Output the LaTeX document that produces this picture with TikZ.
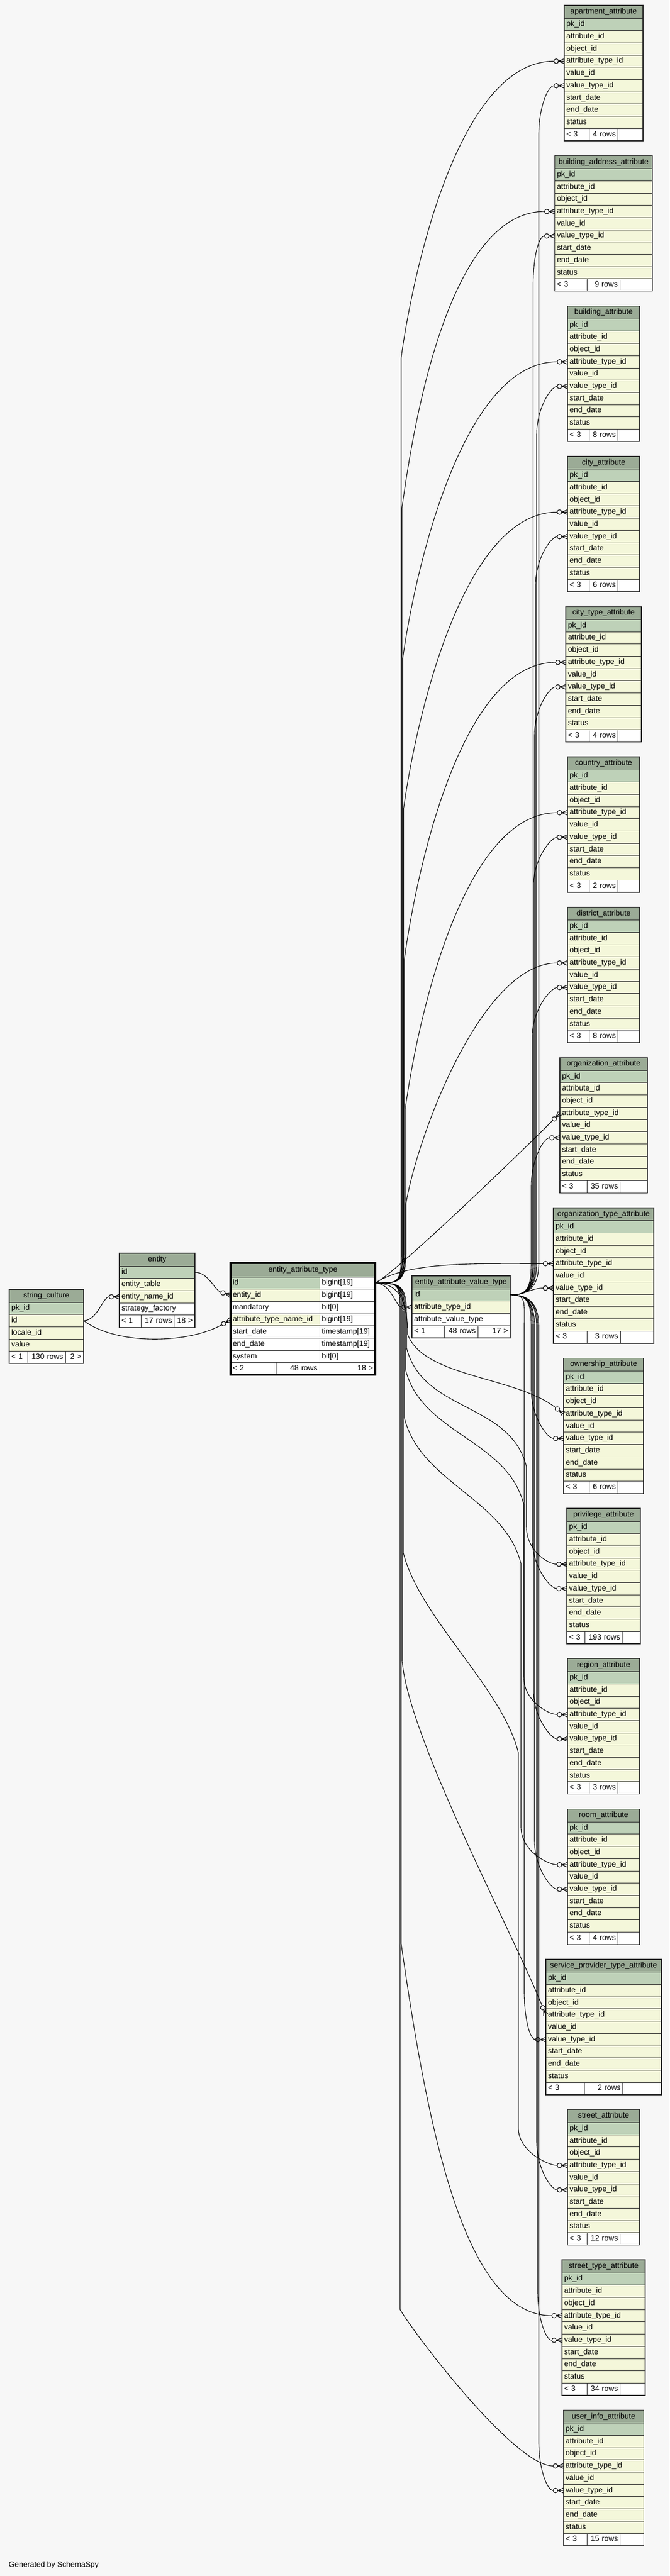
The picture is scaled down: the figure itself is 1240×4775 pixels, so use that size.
\documentclass[tikz,border=0pt]{standalone}
\usepackage{fontspec}
\setmainfont{Liberation Sans}
\usetikzlibrary{calc,arrows.meta}

\definecolor{hdrfill}{HTML}{9BAB96}
\definecolor{pkfill}{HTML}{BED1B8}
\definecolor{fkfill}{HTML}{F4F7DA}
\definecolor{canvas}{HTML}{F7F7F7}

\newcommand\tabfont{\fontsize{14.2}{16}\selectfont}

\pgfdeclarearrow{
  name = crowodot,
  setup code = {
    \pgfarrowssettipend{0pt}
    \pgfarrowssetlineend{-19pt}
    \pgfarrowssetbackend{-19pt}
    \pgfarrowsupperhullpoint{0pt}{5pt}
    \pgfarrowsupperhullpoint{-19pt}{5pt}
  },
  drawing code = {
    \pgfpathmoveto{\pgfqpoint{0pt}{4.5pt}}
    \pgfpathlineto{\pgfqpoint{-10.5pt}{0pt}}
    \pgfpathlineto{\pgfqpoint{0pt}{-4.5pt}}
    \pgfpathmoveto{\pgfqpoint{-10.5pt}{0pt}}
    \pgfpathlineto{\pgfqpoint{0pt}{0pt}}
    \pgfusepathqstroke
    \pgfpathcircle{\pgfqpoint{-14.75pt}{0pt}}{4.25pt}
    \pgfusepathqstroke
  }
}

\tikzset{
  cellrow/.style={draw=black!85, line width=0.9pt, anchor=north west, outer sep=0pt,
    minimum height=22.7pt, inner xsep=4pt, inner ysep=0pt, text height=10pt,
    text depth=3pt, align=left, font=\tabfont},
  hdr/.style={cellrow, fill=hdrfill, align=center, minimum height=24pt},
  pkrow/.style={cellrow, fill=pkfill},
  fkrow/.style={cellrow, fill=fkfill},
  plainrow/.style={cellrow, fill=white},
  footl/.style={cellrow, fill=white, align=left},
  footr/.style={cellrow, fill=white, align=right},
  frame/.style={draw=black!85, line width=1.4pt},
  focusframe/.style={draw=black, line width=3.5pt},
  fk/.style={draw=black, line width=1.1pt, -crowodot},
}

\begin{document}
\begin{tikzpicture}[x=1pt, y=-1pt]
\fill[canvas] (0,0) rectangle (1240,4775);
\useasboundingbox (0,0) rectangle (1240,4775);

% string_culture
\node[hdr, text width=130pt] (sc-h) at (17,2390) {string\_culture};
\node[pkrow, text width=130pt] (sc-pk) at (sc-h.south west) {pk\_id};
\node[fkrow, text width=130pt] (sc-id) at (sc-pk.south west) {id};
\node[fkrow, text width=130pt] (sc-locale) at (sc-id.south west) {locale\_id};
\node[fkrow, text width=130pt] (sc-value) at (sc-locale.south west) {value};
\node[footl, text width=26.7pt] (sc-f1) at (sc-value.south west) {< 1};
\node[footr, text width=61.3pt] (sc-f2) at (sc-f1.north east) {130 rows};
\node[footr, text width=26pt] (sc-f3) at (sc-f2.north east) {2 >};
\draw[frame] (sc-h.north west) rectangle (sc-f3.south east);

% entity
\node[hdr, text width=132pt] (ent-h) at (221,2323) {entity};
\node[pkrow, text width=132pt] (ent-id) at (ent-h.south west) {id};
\node[fkrow, text width=132pt] (ent-table) at (ent-id.south west) {entity\_table};
\node[fkrow, text width=132pt] (ent-name) at (ent-table.south west) {entity\_name\_id};
\node[plainrow, text width=132pt] (ent-strategy) at (ent-name.south west) {strategy\_factory};
\node[footl, text width=32pt] (ent-f1) at (ent-strategy.south west) {< 1};
\node[footr, text width=53.7pt] (ent-f2) at (ent-f1.north east) {17 rows};
\node[footr, text width=30.3pt] (ent-f3) at (ent-f2.north east) {18 >};
\draw[frame] (ent-h.north west) rectangle (ent-f3.south east);

% entity_attribute_type
\node[hdr, text width=260pt, minimum height=26pt] (eat-h) at (427,2341) {entity\_attribute\_type};
\node[pkrow, text width=157pt] (eat-id) at (eat-h.south west) {id};
\node[plainrow, text width=95pt] (eat-idt) at (eat-id.north east) {bigint[19]};
\node[fkrow, text width=157pt] (eat-eid) at (eat-id.south west) {entity\_id};
\node[plainrow, text width=95pt] (eat-eidt) at (eat-eid.north east) {bigint[19]};
\node[plainrow, text width=157pt] (eat-mand) at (eat-eid.south west) {mandatory};
\node[plainrow, text width=95pt] (eat-mandt) at (eat-mand.north east) {bit[0]};
\node[fkrow, text width=157pt] (eat-atn) at (eat-mand.south west) {attribute\_type\_name\_id};
\node[plainrow, text width=95pt] (eat-atnt) at (eat-atn.north east) {bigint[19]};
\node[plainrow, text width=157pt] (eat-start) at (eat-atn.south west) {start\_date};
\node[plainrow, text width=95pt] (eat-startt) at (eat-start.north east) {timestamp[19]};
\node[plainrow, text width=157pt] (eat-end) at (eat-start.south west) {end\_date};
\node[plainrow, text width=95pt] (eat-endt) at (eat-end.north east) {timestamp[19]};
\node[plainrow, text width=157pt] (eat-sys) at (eat-end.south west) {system};
\node[plainrow, text width=95pt] (eat-syst) at (eat-sys.north east) {bit[0]};
\node[footl, text width=76.7pt] (eat-f1) at (eat-sys.south west) {< 2};
\node[footr, text width=72.3pt] (eat-f2) at (eat-f1.north east) {48 rows};
\node[footr, text width=95pt] (eat-f3) at (eat-f2.north east) {18 >};
\draw[focusframe] (eat-h.north west) rectangle (eat-f3.south east);

% entity_attribute_value_type
\node[hdr, text width=174pt] (eavt-h) at (763,2365) {entity\_attribute\_value\_type};
\node[pkrow, text width=174pt] (eavt-id) at (eavt-h.south west) {id};
\node[fkrow, text width=174pt] (eavt-atid) at (eavt-id.south west) {attribute\_type\_id};
\node[plainrow, text width=174pt] (eavt-avt) at (eavt-atid.south west) {attribute\_value\_type};
\node[footl, text width=52.7pt] (eavt-f1) at (eavt-avt.south west) {< 1};
\node[footr, text width=53.6pt] (eavt-f2) at (eavt-f1.north east) {48 rows};
\node[footr, text width=51.7pt] (eavt-f3) at (eavt-f2.north east) {17 >};
\draw[frame] (eavt-h.north west) rectangle (eavt-f3.south east);

% attribute tables
\foreach \tname/\tlabel/\nrows/\tw/\mw [count=\tk from 0] in {
    apt/apartment\_attribute/4/146/53.3,
    bldaddr/building\_address\_attribute/9/181/60.3,
    bld/building\_attribute/8/134/53.3,
    city/city\_attribute/6/134/53.3,
    citytype/city\_type\_attribute/4/140/53.3,
    country/country\_attribute/2/134/53.3,
    district/district\_attribute/8/134/53.3,
    org/organization\_attribute/35/162/61.3,
    orgtype/organization\_type\_attribute/3/186/62,
    own/ownership\_attribute/6/148/53.3,
    priv/privilege\_attribute/193/136/69.3,
    region/region\_attribute/3/134/53.3,
    room/room\_attribute/4/134/53.3,
    sptype/service\_provider\_type\_attribute/2/214/71.3,
    street/street\_attribute/12/134/61.3,
    streettype/street\_type\_attribute/34/154/61.3,
    userinfo/user\_info\_attribute/15/149/61.3}{
  \pgfmathsetmacro\tx{1118-\tw/2}
  \pgfmathsetmacro\ty{10+278.6*\tk}
  \pgfmathsetmacro\txtw{\tw-8}
  \pgfmathsetmacro\sidew{(\tw-\mw)/2-8}
  \pgfmathsetmacro\midw{\mw-8}
  \node[hdr, text width=\txtw pt] (\tname-0) at (\tx,\ty) {\tlabel};
  \foreach \col [count=\rj] in {pk\_id,attribute\_id,object\_id,attribute\_type\_id,
      value\_id,value\_type\_id,start\_date,end\_date,status}{
    \pgfmathtruncatemacro\rprev{\rj-1}
    \ifnum\rj=1 \def\rowfill{pkfill}\else\def\rowfill{fkfill}\fi
    \node[cellrow, fill=\rowfill, text width=\txtw pt] (\tname-\rj) at (\tname-\rprev.south west) {\col};
  }
  \node[footl, text width=\sidew pt] (\tname-f1) at (\tname-9.south west) {< 3};
  \node[footr, text width=\midw pt] (\tname-f2) at (\tname-f1.north east) {\nrows\ rows};
  \node[footr, text width=\sidew pt] (\tname-f3) at (\tname-f2.north east) {};
  \draw[frame] (\tname-0.north west) rectangle (\tname-f3.south east);
}

% links on the left
\draw[fk] (sc-id.east) .. controls +(25,0) and +(-30,0) .. (ent-name.west);
\draw[fk] (sc-id.east) .. controls +(60,45) and +(-80,45) .. (eat-atn.west);
\draw[fk] (ent-id.east) .. controls +(25,0) and +(-30,-10) .. (eat-eid.west);
\draw[fk] (eat-idt.east) .. controls +(30,0) and +(-30,0) .. (eavt-atid.west);

% attribute_type_id links, upwards
\foreach \tname/\tk in {apt/0,bldaddr/1,bld/2,city/3,citytype/4,country/5,district/6}{
  \pgfmathsetmacro\spanv{min(550,0.75*(2266-278.6*\tk))}
  \pgfmathsetmacro\dx{48+1.5*\tk}
  \draw[fk] (eat-idt.east) .. controls +(45,0) and +(0,60) .. ($(eat-idt.east)+(\dx,-60)$)
    -- ($(eat-idt.east |- \tname-4.west)+(\dx,\spanv)$)
    .. controls +(20,-0.27*\spanv) and +(-0.36*\spanv,0) .. (\tname-4.west);
}
\draw[fk] (eat-idt.east) .. controls +(40,-20) and +(-70,70) .. (org-4.west);
\draw[fk] (eat-idt.east) .. controls +(60,-40) and +(-150,0) .. (orgtype-4.west);

% attribute_type_id links, downwards
\draw[fk] (eat-idt.east) .. controls +(45,0) and +(0,-60) .. ($(eat-idt.east)+(60,95)$)
  .. controls +(30,80) and +(-90,-70) .. (own-4.west);
\foreach \tname/\dx/\ys/\xr/\yr in {priv/58/120/280/340,region/56/160/275/410,
    room/54/250/270/520,street/52/500/265/870}{
  \draw[fk] (eat-idt.east) .. controls +(45,0) and +(0,-60) .. ($(eat-idt.east)+(\dx,60)$)
    -- ($(eat-idt.east)+(\dx,\ys)$)
    .. controls +(30,120) and +(-30,-120) .. ($(eat-idt.east)+(\xr,\yr)$)
    -- ($(eat-idt.east |- \tname-4.west)+(\xr,-70)$)
    .. controls +(0,45) and +(-35,0) .. (\tname-4.west);
}
\draw[fk] (eat-idt.east) .. controls +(45,0) and +(0,-60) .. ($(eat-idt.east)+(50,60)$)
  -- ($(eat-idt.east)+(50,700)$)
  .. controls +(10,140) and +(-60,-150) .. (sptype-4.west);
\draw[fk] (eat-idt.east) .. controls +(45,0) and +(0,-60) .. ($(eat-idt.east)+(48,60)$)
  -- ($(eat-idt.east |- streettype-4.west)+(48,-690)$)
  .. controls +(50,350) and +(-180,0) .. (streettype-4.west);
\draw[fk] (eat-idt.east) .. controls +(45,0) and +(0,-60) .. ($(eat-idt.east)+(46,60)$)
  -- ($(eat-idt.east |- userinfo-4.west)+(46,-290)$)
  .. controls +(30,50) and +(-90,0) .. (userinfo-4.west);

% value_type_id links, upwards
\foreach \tname/\tk/\tw in {apt/0/146,bldaddr/1/181,bld/2/134,city/3/134,citytype/4/140,
    country/5/134,district/6/134,org/7/162}{
  \pgfmathsetmacro\vx{min(53-2*\tk,1118-\tw/2-985)}
  \draw[fk] (eavt-id.east) .. controls +(30,0) and +(0,50) .. ($(eavt-id.east)+(\vx,-60)$)
    -- ($(eavt-id.east |- \tname-6.west)+(\vx,90)$)
    .. controls +(0,-50) and +(-30,0) .. (\tname-6.west);
}
\draw[fk] (eavt-id.east) .. controls +(25,0) and +(-40,0) .. (orgtype-6.west);

% value_type_id links, downwards
\foreach \tname/\tk/\tw in {own/9/148,priv/10/136,region/11/134,room/12/134,sptype/13/214,
    street/14/134,streettype/15/154,userinfo/16/149}{
  \pgfmathsetmacro\vx{min(39+2*(\tk-9),1118-\tw/2-985)}
  \draw[fk] (eavt-id.east) .. controls +(30,0) and +(0,-50) .. ($(eavt-id.east)+(\vx,60)$)
    -- ($(eavt-id.east |- \tname-6.west)+(\vx,-90)$)
    .. controls +(0,50) and +(-30,0) .. (\tname-6.west);
}

\node[font=\tabfont, anchor=west, inner sep=0pt] (credit) at (16,4755) {Generated by SchemaSpy};
\end{tikzpicture}
\end{document}
